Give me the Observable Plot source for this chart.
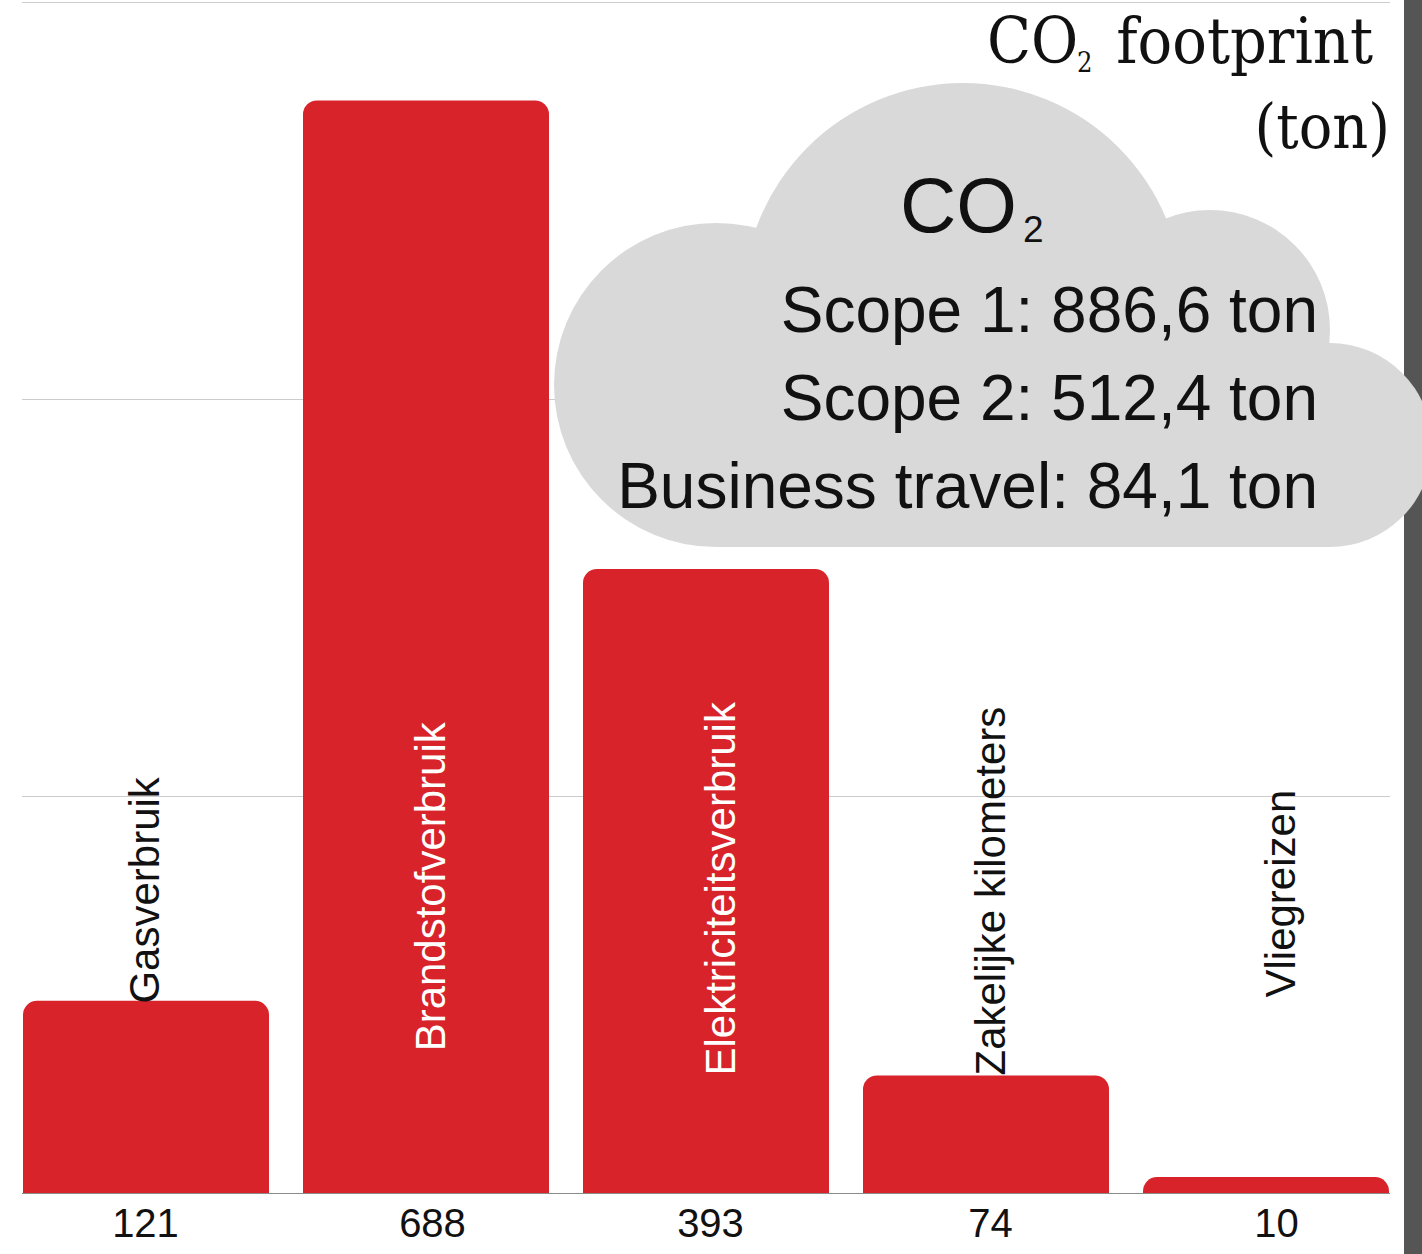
<!DOCTYPE html>
<html>
<head>
<meta charset="utf-8">
<script src="https://cdn.jsdelivr.net/npm/d3@7"></script>
<script src="https://cdn.jsdelivr.net/npm/@observablehq/plot@0.6"></script>
<style>
  html, body { margin: 0; padding: 0; background: #fff; }
  #chart svg { display: block; }
</style>
</head>
<body>
<div id="chart"></div>
<script>
// ---- data ----
const categories = ["Gasverbruik", "Brandstofverbruik", "Elektriciteitsverbruik", "Zakelijke kilometers", "Vliegreizen"];
const values = [121, 688, 393, 74, 10];
const valueLabels = ["121", "688", "393", "74", "10"];
const gridTicks = [250, 500, 750];
const cloudHeading = ["CO", "2"];
const cloudLines = ["Scope 1: 886,6 ton", "Scope 2: 512,4 ton", "Business travel: 84,1 ton"];
const titleParts = ["CO", "2", "footprint", "(ton)"];

// ---- layout / style (kept apart from the data) ----
const labelAt = [119.6, 89.5, 74.3, 74.3, 123.4];   // value at which each rotated label starts
const labelDx = [-1, 5, 15, 5, 15];
const numberDx = [-1, 6, 4, 4, 10];
const labelFill = ["#111", "#fff", "#fff", "#111", "#111"];
const barColor = "#d8232a";

const data = categories.map((c, i) => ({category: c, value: values[i], label: valueLabels[i], at: labelAt[i]}));

const W = 1422, H = 1254;

const chart = Plot.plot({
  width: W,
  height: H,
  marginLeft: 22,
  marginRight: 32,
  marginTop: 2,
  marginBottom: 61,
  style: {background: "#fff", fontFamily: "'Liberation Sans', Arial, sans-serif", overflow: "visible"},
  x: {domain: categories, paddingInner: 0.123, paddingOuter: 0, axis: null},
  y: {domain: [0, 750], axis: null},
  marks: [
    Plot.gridY(gridTicks, {stroke: "#cccccc", strokeOpacity: 1, strokeWidth: 1}),
    Plot.ruleY([0], {stroke: "#8a8a8a", strokeWidth: 1}),
    Plot.barY(data, {x: "category", y1: () => -12, y2: "value", fill: barColor, rx: 14, clip: true}),
    ...data.map((d, i) => Plot.text([d], {
      x: "category", y: "at", text: "category", rotate: -90, textAnchor: "start",
      fontSize: 42, fill: labelFill[i], dx: labelDx[i]
    })),
    ...data.map((d, i) => Plot.text([d], {
      x: "category", y: () => 0, text: "label", dy: 31, fontSize: 40, fill: "#111", dx: numberDx[i]
    }))
  ]
});

document.getElementById("chart").appendChild(chart);

// ---- decorative layer: right strip, cloud, title ----
const svg = d3.select(chart);
const barGroup = chart.querySelector('g[aria-label="bar"]');
const deco = svg.insert("g", () => barGroup).attr("class", "deco").attr("text-anchor", "start");

deco.append("rect").attr("x", 1404).attr("y", 0).attr("width", W - 1404).attr("height", H).attr("fill", "#555555");

const cloud = deco.append("g").attr("fill", "#d9d9d9");
[[716, 385, 162], [963, 303, 220], [1210, 330, 120], [1330, 445, 102]].forEach(([cx, cy, r]) =>
  cloud.append("circle").attr("cx", cx).attr("cy", cy).attr("r", r));
cloud.append("rect").attr("x", 716).attr("y", 345).attr("width", 1330 - 716).attr("height", 547 - 345);

const sans = "'Liberation Sans', Arial, sans-serif";
deco.append("text").attr("x", 900).attr("y", 232).attr("font-family", sans).attr("font-size", 78)
  .attr("text-anchor", "start").attr("fill", "#111").text(cloudHeading[0]);
deco.append("text").attr("x", 1023).attr("y", 242).attr("font-family", sans).attr("font-size", 37)
  .attr("text-anchor", "start").attr("fill", "#111").text(cloudHeading[1]);
cloudLines.forEach((t, i) => deco.append("text")
  .attr("x", 1318).attr("y", 332 + i * 88).attr("text-anchor", "end")
  .attr("font-family", sans).attr("font-size", 64).attr("fill", "#111").text(t));

const serif = "'DejaVu Serif Condensed', 'DejaVu Serif', serif";
const tStyle = sel => sel.attr("font-family", serif).attr("font-stretch", "condensed").attr("fill", "#111");
tStyle(deco.append("text").attr("x", 987).attr("y", 63).attr("font-size", 64).attr("text-anchor", "start")).text(titleParts[0]);
tStyle(deco.append("text").attr("x", 1077).attr("y", 72).attr("font-size", 27).attr("text-anchor", "start")).text(titleParts[1]);
tStyle(deco.append("text").attr("x", 1373).attr("y", 63).attr("font-size", 64).attr("text-anchor", "end")).text(titleParts[2]);
tStyle(deco.append("text").attr("x", 1390).attr("y", 148).attr("font-size", 62).attr("text-anchor", "end")).text(titleParts[3]);
</script>
</body>
</html>
